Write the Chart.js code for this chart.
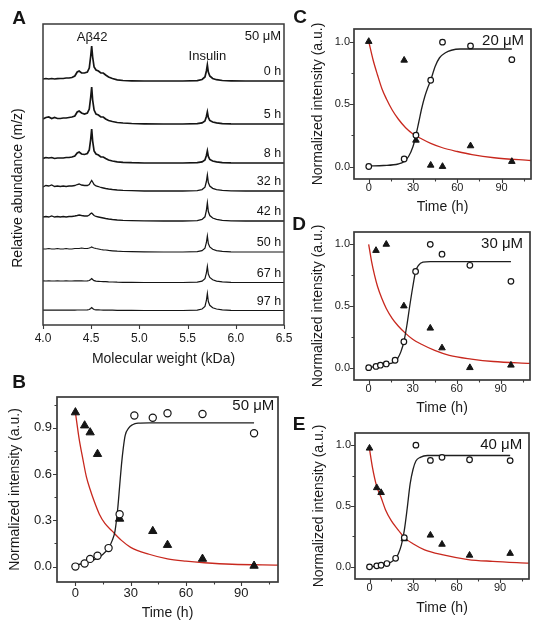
<!DOCTYPE html>
<html><head><meta charset="utf-8">
<script src="https://cdn.jsdelivr.net/npm/chart.js@4.4.1/dist/chart.umd.min.js"></script>
<style>
html,body{margin:0;padding:0;background:#fff;width:541px;height:631px;overflow:hidden;position:relative;}
.p{position:absolute;}
canvas{display:block;}
</style></head><body>
<div class="p" style="left:0;top:0"><canvas id="cA" width="300" height="375"></canvas></div>
<div class="p" style="left:0;top:375px"><canvas id="cB" width="290" height="256"></canvas></div>
<div class="p" style="left:290px;top:0"><canvas id="cC" width="251" height="222"></canvas></div>
<div class="p" style="left:290px;top:212px"><canvas id="cD" width="251" height="210"></canvas></div>
<div class="p" style="left:290px;top:415px"><canvas id="cE" width="251" height="216"></canvas></div>
<script>
// ===================== DATA =====================
// Panel A: MALDI spectra, molecular weight (kDa) and relative abundance of each trace
const massKDa = [4.00,4.03,4.06,4.09,4.12,4.15,4.18,4.21,4.24,4.27,4.30,4.33,4.355,4.375,4.40,4.43,4.46,4.48,4.495,4.505,4.515,4.53,4.55,4.575,4.60,4.625,4.65,4.68,4.72,4.77,4.83,4.92,5.05,5.25,5.45,5.60,5.65,5.68,5.695,5.705,5.715,5.73,5.76,5.80,5.86,5.95,6.10,6.30,6.50];
const traceLabels = ['0 h','5 h','8 h','32 h','42 h','50 h','67 h','97 h'];
const spec0h  = [2,2.5,2,2.5,2,2.3,2.5,2.5,3,3,3.5,5, 9,10,8,8,9,13,25,35,24, 14,11,10,8,8,6,4,2.5,1.2,0.5,0.2, 0,0,0, 0.4,1.5,4,10,16,9,5,2.5,1.3,0.5,0.2, 0,0,0];
const spec5h  = [5,6.5,7,5.5,6.5,5.5,5.5,6,6,6.5,7,8, 12,13,11,10,11,15,27,37,24, 14,10,9,7,7,5,3.5,2.5,1.5,1,0.5, 0.2,0,0, 0.3,1.1,3,7.5,12,6.5,3.6,2,1.1,0.4,0.1, 0,0,0];
const spec8h  = [4.5,5.5,5,5.5,4.5,5,5,5,5.5,5.5,6,7, 10,11,9,8.5,9.5,13,24,34,22, 12,9,8,6,6,4.5,3,2,1.2,0.7,0.3, 0,0,0, 0.3,1.1,3,7.5,12,6.5,3.6,2,1.1,0.4,0.1, 0,0,0];
const spec32h = [4,5.5,5,6,4.5,5,4.5,5,4.5,5,5,5.5, 6.5,7,6,5.5,5.5,6.5,9,10.5,9, 6.5,5,4.5,3.5,3,2.5,2,1.5,1,0.6,0.3, 0,0,0, 0.4,1.4,3.8,9.5,16,8.5,5,2.7,1.4,0.6,0.2, 0,0,0];
const spec42h = [4,4.5,4,5,4,4.5,4,4.5,4,4.5,4.5,5, 5.5,6,5.5,5,5,6,7.5,8,7, 5.5,4.5,4,3.5,3,2.5,2,1.5,1,0.6,0.3, 0.1,0,0, 0.4,1.5,4.2,10.5,18,9.5,5.5,3,1.6,0.7,0.2, 0,0,0];
const spec50h = [3,3,3.5,3,3,3.5,3,3,3.5,3,3,3.5, 3.5,3.5,4,3.5,3.5,4,4.5,5,4.5, 4,3.5,3,2.5,2.2,2,1.6,1.2,0.8,0.5,0.3, 0.1,0,0, 0.4,1.4,3.8,9.5,16,8.5,5,2.7,1.4,0.6,0.2, 0,0,0];
const spec67h = [1.6,1.5,1.6,1.5,1.5,1.6,1.5,1.5,1.6,1.5,1.5,1.6, 1.6,1.7,1.6,1.5,1.6,2,3,4,3, 1.8,1.4,1.2,1,0.9,0.8,0.6,0.5,0.3,0.2,0.1, 0,0,0, 0.4,1.4,3.8,9.5,16,8.5,5,2.7,1.4,0.6,0.2, 0,0,0];
const spec97h = [0.4,0.3,0.4,0.3,0.4,0.3,0.4,0.3,0.4,0.3,0.4,0.4, 0.5,0.5,0.5,0.5,0.6,1,2,3,2, 1,0.7,0.6,0.5,0.4,0.4,0.3,0.3,0.2,0.1,0.1, 0,0,0, 0.4,1.5,4,10,17,9,5.2,2.8,1.5,0.6,0.2, 0,0,0];
const massTicks = [4.0,4.5,5.0,5.5,6.0,6.5];

// Panels B-E: time (h) and normalized intensity
const timeTicks = [0,15,30,45,60,75,90,105];
const timeTickLabels = [0,30,60,90];
const yTicksB = [0,0.15,0.3,0.45,0.6,0.75,0.9,1.05];
const yTickLabelsB = [0,0.3,0.6,0.9];
const yTicksCDE = [0,0.25,0.5,0.75,1.0];
const yTickLabelsCDE = [0,0.5,1.0];

// B: 50 uM
const fibrilTimeB = [0,5,8,12,18,24,32,42,50,69,97];
const fibrilB     = [0,0.02,0.05,0.07,0.12,0.34,0.98,0.965,0.995,0.99,0.865];
const monomerTimeB = [0,5,8,12,24,42,50,69,97];
const monomerB     = [1.0,0.915,0.87,0.73,0.31,0.23,0.14,0.05,0.005];
const sigFitTimeB = [0,4,8,12,15,18,20,21.5,23,24,25,26,27,29,31,34,40,60,97];
const sigFitB     = [0.01,0.02,0.035,0.055,0.08,0.12,0.17,0.23,0.38,0.52,0.66,0.77,0.85,0.9,0.92,0.93,0.932,0.932,0.932];
const expFitTimeB = [0,2,4,6,8,10,13,16,20,25,30,40,50,60,70,85,110];
const expFitB     = [1.0,0.83,0.7,0.58,0.5,0.43,0.34,0.28,0.23,0.17,0.125,0.08,0.05,0.035,0.025,0.015,0.01];

// C: 20 uM
const fibrilTimeC = [0,24,32,42,50,69,97];
const fibrilC     = [0,0.06,0.25,0.69,0.995,0.965,0.855];
const monomerTimeC = [0,24,32,42,50,69,97];
const monomerC     = [1.0,0.85,0.21,0.01,0.0,0.165,0.04];
const sigFitTimeC = [0,10,20,24,27,30,32,34,36,38,40,42,45,48,52,56,62,97];
const sigFitC     = [0.005,0.008,0.02,0.04,0.08,0.16,0.25,0.36,0.47,0.56,0.63,0.69,0.8,0.87,0.91,0.93,0.94,0.94];
const expFitTimeC = [0,3,6,9,12,16,20,25,30,36,42,50,60,70,85,110];
const expFitC     = [1.0,0.85,0.73,0.62,0.54,0.45,0.38,0.31,0.26,0.22,0.185,0.15,0.12,0.095,0.07,0.048];

// D: 30 uM
const fibrilTimeD = [0,5,8,12,18,24,32,42,50,69,97];
const fibrilD     = [0,0.01,0.02,0.03,0.06,0.21,0.78,1.0,0.92,0.83,0.70];
const monomerTimeD = [5,12,24,42,50,69,97];
const monomerD     = [0.95,1.0,0.5,0.32,0.16,0.0,0.02];
const sigFitTimeD = [0,5,10,15,18,20,22,24,26,28,30,32,34,37,42,97];
const sigFitD     = [0.0,0.01,0.02,0.035,0.05,0.08,0.13,0.21,0.34,0.5,0.65,0.78,0.83,0.855,0.86,0.86];
const expFitTimeD = [0,2,4,6,9,12,16,20,25,30,36,45,55,70,85,110];
const expFitD     = [1.0,0.86,0.75,0.66,0.56,0.48,0.4,0.34,0.28,0.23,0.19,0.14,0.1,0.07,0.05,0.035];

// E: 40 uM
const fibrilTimeE = [0,5,8,12,18,24,32,42,50,69,97];
const fibrilE     = [0,0.008,0.013,0.027,0.07,0.24,1.0,0.875,0.9,0.88,0.873];
const monomerTimeE = [0,5,8,24,42,50,69,97];
const monomerE     = [0.975,0.65,0.61,0.23,0.26,0.185,0.095,0.11];
const sigFitTimeE = [0,5,10,15,18,20,22,24,26,28,30,32,35,40,97];
const sigFitE     = [0.0,0.005,0.015,0.04,0.07,0.11,0.18,0.3,0.48,0.68,0.8,0.87,0.9,0.915,0.915];
const expFitTimeE = [0,2,5,8,11,15,20,24,30,38,50,68,85,110];
const expFitE     = [0.97,0.82,0.66,0.57,0.47,0.38,0.3,0.24,0.19,0.14,0.1,0.06,0.045,0.03];

// ===================== LAYOUT / STYLE =====================
const FONT = "'Liberation Sans', Arial, sans-serif";
Chart.defaults.font.family = FONT;
Chart.defaults.color = '#1a1a1a';
const INK = '#151515', FRAME = '#3a3a3a', RED = '#c8281e';
// stacking offsets (axis units) for panel A traces
const traceBaseline = [244,201,162,134,104,73,42.5,14.5];
const traceWidth = [1.7,1.7,1.7,1.3,1.3,1.2,1.2,1.2];

const zip = (xs, ys) => xs.map((x,i)=>({x, y: ys[i]}));
const near = (arr, v) => arr.some(a => Math.abs(a - v) < 1e-9);

function framePlugin(opt) {
  return {
    id: 'frame',
    afterDraw(chart) {
      const {ctx, chartArea: a, scales} = chart;
      ctx.save();
      ctx.strokeStyle = FRAME;
      ctx.lineWidth = 1.1;
      ctx.beginPath();
      scales.x.ticks.forEach(t => {
        const px = Math.round(scales.x.getPixelForValue(t.value)) + 0.5;
        const len = t.label !== '' ? opt.major : opt.minor;
        ctx.moveTo(px, a.bottom); ctx.lineTo(px, a.bottom + len);
      });
      if (opt.yTicks) scales.y.ticks.forEach(t => {
        const py = Math.round(scales.y.getPixelForValue(t.value)) + 0.5;
        const len = t.label !== '' ? opt.major : opt.minor;
        ctx.moveTo(a.left, py); ctx.lineTo(a.left - len, py);
      });
      ctx.stroke();
      ctx.lineWidth = opt.frameWidth || 1.6;
      ctx.strokeRect(a.left, a.top, a.right - a.left, a.bottom - a.top);
      ctx.restore();
    }
  };
}
function notesPlugin(items) {
  return {
    id: 'notes',
    afterDraw(chart) {
      const ctx = chart.ctx;
      items.forEach(it => {
        ctx.save();
        ctx.font = it.font;
        ctx.fillStyle = INK;
        ctx.textAlign = it.align || 'center';
        ctx.textBaseline = 'middle';
        let px = it.x, py = it.y;
        if (it.data) { px = chart.scales.x.getPixelForValue(it.x); py = chart.scales.y.getPixelForValue(it.y); }
        ctx.translate(px, py);
        if (it.rot) ctx.rotate(it.rot);
        ctx.fillText(it.text, 0, 0);
        ctx.restore();
      });
    }
  };
}

// ===================== PANEL A =====================
(function(){
  const spectra = [spec0h,spec5h,spec8h,spec32h,spec42h,spec50h,spec67h,spec97h];
  const datasets = spectra.map((s,k) => ({
    data: massKDa.map((m,i) => ({x: m, y: traceBaseline[k] + s[i]})),
    borderColor: INK, borderWidth: traceWidth[k], pointRadius: 0, tension: 0, fill: false
  }));
  const notes = [
    {text:'A', x:19, y:19, font:'bold 19px '+FONT},
    {text:'Relative abundance (m/z)', x:18, y:188, rot:-Math.PI/2, font:'14px '+FONT},
    {text:'A\u03b242', data:true, x:4.51, y:288, font:'13px '+FONT},
    {text:'Insulin', data:true, x:5.705, y:269, font:'13px '+FONT},
    {text:'50 \u03bcM', data:true, x:6.47, y:289, align:'right', font:'13px '+FONT}
  ];
  traceLabels.forEach((l,k) => notes.push({text:l, data:true, x:6.47, y:traceBaseline[k]+9, align:'right', font:'12.5px '+FONT}));
  new Chart(document.getElementById('cA'), {
    type:'line',
    data:{datasets},
    options:{
      responsive:false, animation:false, devicePixelRatio:1, events:[],
      layout:{padding:{left:0, top:24, right:16, bottom:0}},
      plugins:{legend:{display:false}, tooltip:{enabled:false}},
      scales:{
        x:{type:'linear', min:4.0, max:6.5,
           afterBuildTicks: s => { s.ticks = massTicks.map(v=>({value:v})); },
           afterFit: s => { s.height = 50; s.paddingLeft = 0; s.paddingRight = 0; },
           ticks:{autoSkip:false, maxRotation:0, minRotation:0, padding:6.5, font:{size:12}, callback: v => v.toFixed(1)},
           grid:{display:false, drawTicks:false}, border:{display:false},
           title:{display:true, text:'Molecular weight (kDa)', font:{size:14}, padding:{top:0, bottom:7.6}}},
        y:{type:'linear', min:0, max:301,
           afterFit: s => { s.width = 43; s.paddingTop = 0; s.paddingBottom = 0; },
           ticks:{display:false}, grid:{display:false, drawTicks:false}, border:{display:false}}
      }
    },
    plugins:[framePlugin({major:4, minor:2, yTicks:false, frameWidth:1.5}), notesPlugin(notes)]
  });
})();

// ===================== PANELS B-E =====================
function kinetics(id, d, L) {
  const datasets = [
    {data: zip(d.fT, d.f), showLine:false, pointStyle:'circle', pointRadius:L.cr, pointBackgroundColor:'#fff', pointBorderColor:INK, pointBorderWidth:1.2, order:0},
    {data: zip(d.mT, d.m), showLine:false, pointStyle:'triangle', pointRadius:L.tr, pointBackgroundColor:INK, pointBorderColor:INK, pointBorderWidth:1, order:0},
    {data: zip(d.sT, d.s), borderColor:'#1e1e1e', borderWidth:1.3, pointRadius:0, cubicInterpolationMode:'monotone', order:1},
    {data: zip(d.eT, d.e), borderColor:RED, borderWidth:1.3, pointRadius:0, cubicInterpolationMode:'monotone', order:1}
  ];
  new Chart(document.getElementById(id), {
    type:'line',
    data:{datasets},
    options:{
      responsive:false, animation:false, devicePixelRatio:1, events:[],
      layout:{padding:L.pad},
      plugins:{legend:{display:false}, tooltip:{enabled:false}},
      scales:{
        x:{type:'linear', min:-10, max:110,
           afterBuildTicks: s => { s.ticks = timeTicks.map(v=>({value:v})); },
           afterFit: s => { s.height = L.xH; s.paddingLeft = 0; s.paddingRight = 0; },
           ticks:{autoSkip:false, maxRotation:0, minRotation:0, padding:L.tpx, font:{size:L.tf}, callback: v => near(timeTickLabels, v) ? String(v) : ''},
           grid:{display:false, drawTicks:false}, border:{display:false},
           title:{display:true, text:'Time (h)', font:{size:14}, padding:{top:0, bottom:L.xtp}}},
        y:{type:'linear', min:-0.1, max:1.1,
           afterBuildTicks: s => { s.ticks = d.yt.map(v=>({value:v})); },
           afterFit: s => { s.width = L.yW; s.paddingTop = 0; s.paddingBottom = 0; },
           ticks:{autoSkip:false, padding:L.tpy, font:{size:L.tf}, callback: v => near(d.yl, v) ? v.toFixed(1) : ''},
           grid:{display:false, drawTicks:false}, border:{display:false},
           title:{display:true, text:'Normalized intensity (a.u.)', font:{size:14}, padding:{top:L.ytp, bottom:0}}}
      }
    },
    plugins:[framePlugin({major:4, minor:2.5, yTicks:true, frameWidth:1.7}), notesPlugin(L.notes)]
  });
}

kinetics('cB',
  {fT:fibrilTimeB, f:fibrilB, mT:monomerTimeB, m:monomerB, sT:sigFitTimeB, s:sigFitB, eT:expFitTimeB, e:expFitB, yt:yTicksB, yl:yTickLabelsB},
  {pad:{left:0, top:22, right:12, bottom:0}, yW:57, xH:49, tf:13, tpx:3.2, tpy:5, ytp:6.6, xtp:9.6, cr:3.6, tr:4.8,
   notes:[{text:'B', x:19, y:8, font:'bold 19px '+FONT},
          {text:'50 \u03bcM', data:true, x:108, y:1.04, align:'right', font:'15px '+FONT}]});

kinetics('cC',
  {fT:fibrilTimeC, f:fibrilC, mT:monomerTimeC, m:monomerC, sT:sigFitTimeC, s:sigFitC, eT:expFitTimeC, e:expFitC, yt:yTicksCDE, yl:yTickLabelsCDE},
  {pad:{left:0, top:29, right:10, bottom:0}, yW:64, xH:43, tf:11, tpx:2.4, tpy:4, ytp:19.6, xtp:6.6, cr:2.8, tr:3.8,
   notes:[{text:'C', x:10, y:18, font:'bold 19px '+FONT},
          {text:'20 \u03bcM', data:true, x:105.3, y:1.005, align:'right', font:'15px '+FONT}]});

kinetics('cD',
  {fT:fibrilTimeD, f:fibrilD, mT:monomerTimeD, m:monomerD, sT:sigFitTimeD, s:sigFitD, eT:expFitTimeD, e:expFitD, yt:yTicksCDE, yl:yTickLabelsCDE},
  {pad:{left:0, top:20, right:11, bottom:0}, yW:64, xH:42, tf:11, tpx:2.4, tpy:4, ytp:19.6, xtp:5.6, cr:2.8, tr:3.8,
   notes:[{text:'D', x:9, y:13, font:'bold 19px '+FONT},
          {text:'30 \u03bcM', data:true, x:105.3, y:1.0, align:'right', font:'15px '+FONT}]});

kinetics('cE',
  {fT:fibrilTimeE, f:fibrilE, mT:monomerTimeE, m:monomerE, sT:sigFitTimeE, s:sigFitE, eT:expFitTimeE, e:expFitE, yt:yTicksCDE, yl:yTickLabelsCDE},
  {pad:{left:0, top:18, right:12, bottom:0}, yW:65, xH:52, tf:11, tpx:2.4, tpy:4, ytp:20.6, xtp:14.6, cr:2.8, tr:3.8,
   notes:[{text:'E', x:9, y:10, font:'bold 19px '+FONT},
          {text:'40 \u03bcM', data:true, x:105.3, y:1.005, align:'right', font:'15px '+FONT}]});
</script>
</body></html>
